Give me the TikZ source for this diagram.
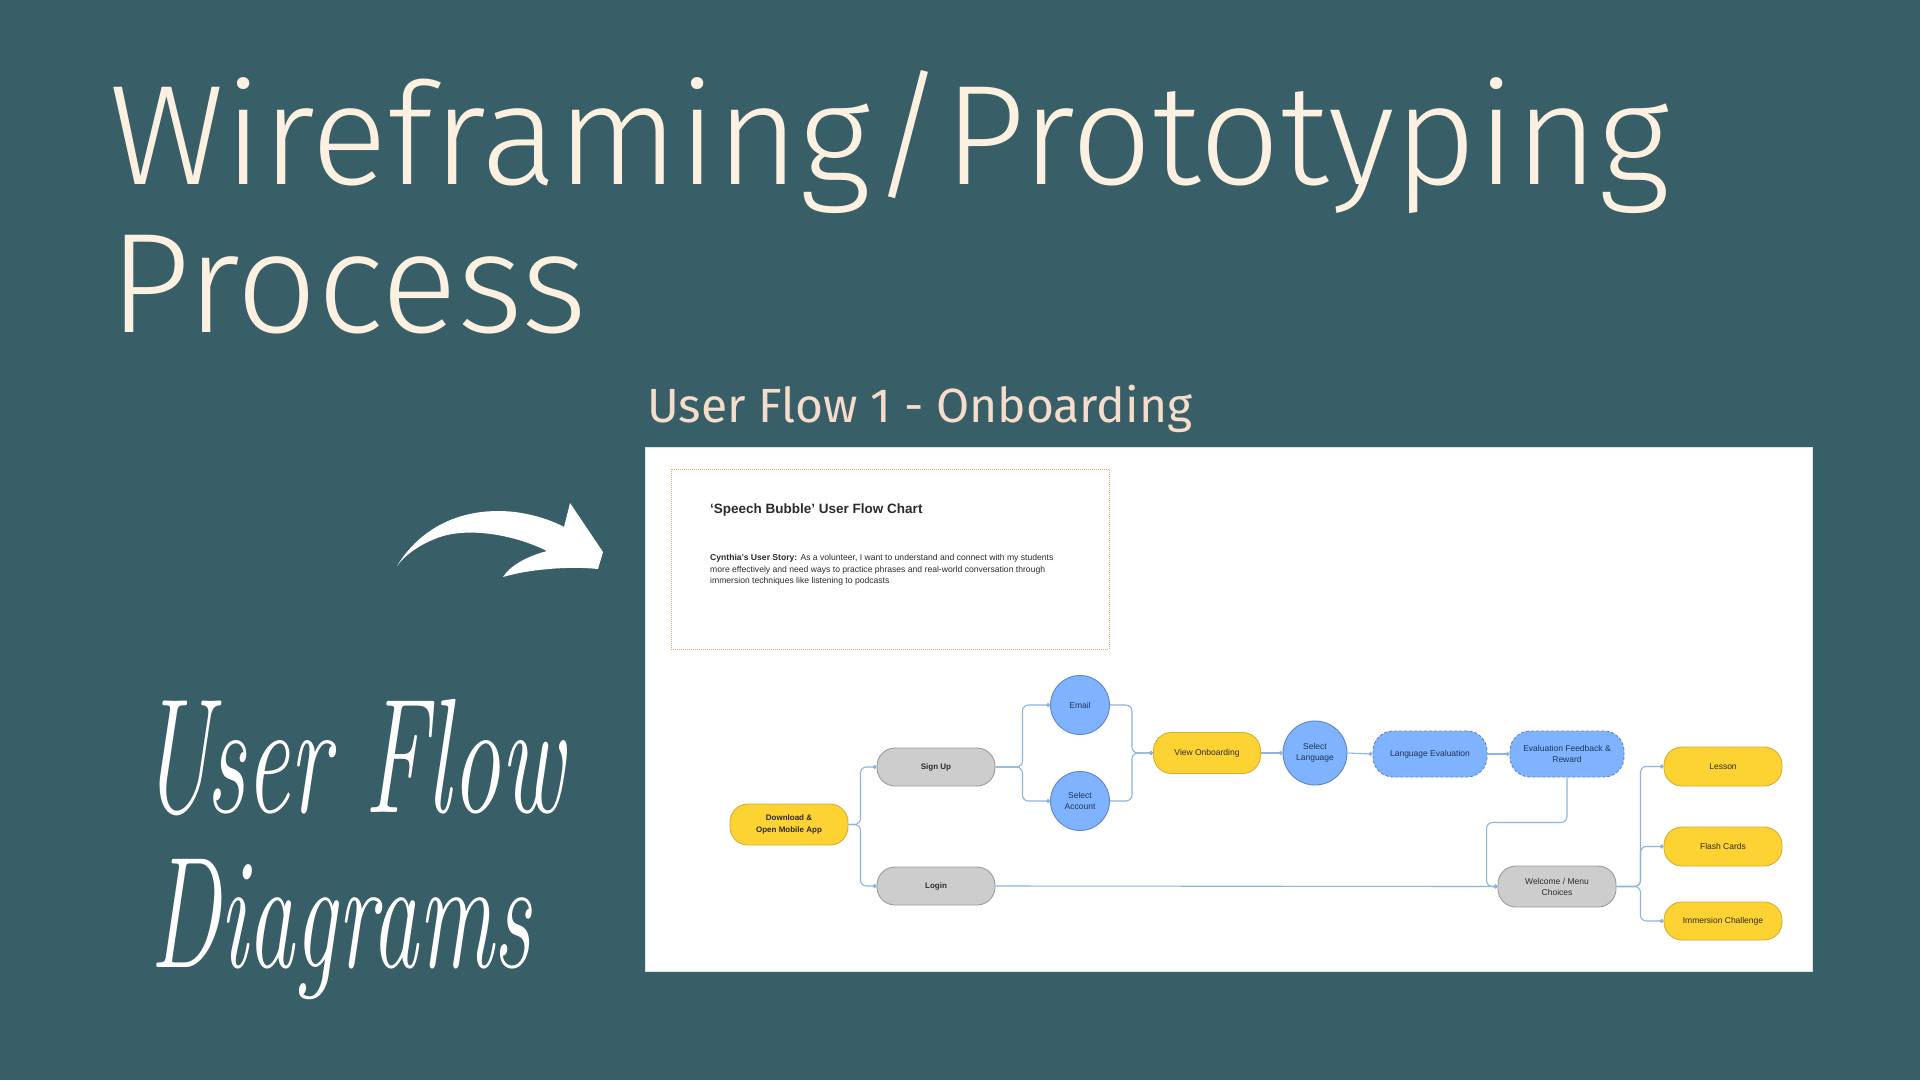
\documentclass[tikz,border=0pt]{standalone}
\usepackage{fontspec}
\setmainfont{Liberation Sans}
\newfontfamily\titlefont{Fira Sans Light}
\newfontfamily\subfont{Fira Sans}
\newfontfamily\handfont{Latin Modern Roman}
\usetikzlibrary{arrows.meta}

\definecolor{bg}{HTML}{385E67}
\definecolor{ttl}{HTML}{FCF0E0}
\definecolor{sub}{HTML}{F5DCCB}
\definecolor{yf}{HTML}{FDD233}
\definecolor{yb}{HTML}{D8AE2E}
\definecolor{gf}{HTML}{CDCDCD}
\definecolor{gb}{HTML}{9B9B9B}
\definecolor{bf}{HTML}{80B3FF}
\definecolor{bb}{HTML}{5C86C2}
\definecolor{bt}{HTML}{1E3556}
\definecolor{tx}{HTML}{2B2B2B}
\definecolor{cl}{HTML}{8DB4DE}
\definecolor{ob}{HTML}{E6A46E}
\definecolor{pb}{HTML}{D3E6EC}

\tikzset{
  nbase/.style={inner sep=0pt, align=center, line width=0.9pt,
    font=\fontsize{8.5}{11}\selectfont},
  pill/.style={nbase, rounded corners=18pt, minimum width=118pt, minimum height=39pt},
  ynode/.style={pill, draw=yb, fill=yf, text=tx},
  gnode/.style={pill, draw=gb, fill=gf, text=tx},
  bnode/.style={nbase, draw=bb, fill=bf, text=bt, rounded corners=20pt,
    minimum width=114pt, minimum height=46pt, densely dashed},
  bcirc/.style={nbase, circle, draw=bb, fill=bf, text=bt},
  bold/.style={font=\fontsize{8}{11.3}\selectfont\bfseries},
  conn/.style={draw=cl, line width=1.1pt, rounded corners=6pt, -{Circle[length=4pt]}},
  headline/.style={anchor=base west, inner sep=0pt, text=ttl,
    font=\titlefont\fontsize{142}{150}\selectfont},
  hand/.style={anchor=base west, inner sep=0pt, text=white,
    font=\handfont\itshape\fontsize{96}{100}\selectfont}
}

\begin{document}
\begin{tikzpicture}[x=1pt,y=-1pt]
\fill[bg] (0,0) rectangle (1920,1080);
\useasboundingbox (0,0) rectangle (1920,1080);

% headline
\node[headline] (t1) at (109,184) {Wireframing/Prototyping};
\node[headline] (t2) at (109,332) {Process};

% hand-lettered caption
\node[hand] (h1) at (140,812) {\scalebox{1.02}[1.7]{User Flow}};
\node[hand] (h2) at (150,967) {\scalebox{0.98}[1.65]{Diagrams}};

% curved arrow
\fill[white] (397,566)
  .. controls (420,528) and (462,506) .. (515,512)
  .. controls (538,515) and (555,522) .. (564,527)
  -- (570,503) -- (603,552) -- (598,569)
  .. controls (570,566) and (530,569) .. (503,577)
  .. controls (510,566) and (525,557) .. (547,551)
  .. controls (515,535) and (470,527) .. (440,537)
  .. controls (420,544) and (405,555) .. (397,566) -- cycle;

% section heading
\node[anchor=base west, inner sep=0pt, text=sub,
  font=\subfont\fontsize{48}{58}\selectfont] (st) at (647,422) {User Flow 1 - Onboarding};

% white board
\filldraw[fill=white, draw=pb, line width=1pt] (645,447) rectangle (1812,971);

% story card
\draw[ob, densely dotted, line width=1pt] (671,469) rectangle (1109,649);
\node[anchor=base west, inner sep=0pt, text=tx,
  font=\fontsize{13.5}{15}\selectfont\bfseries] (ct) at (710,513) {‘Speech Bubble’ User Flow Chart};
\node[anchor=north west, inner sep=0pt, align=left, text=tx,
  font=\fontsize{8.6}{11.6}\selectfont] (story) at (710,554)
  {\textbf{Cynthia’s User Story:} As a volunteer, I want to understand and connect with my students\\
   more effectively and need ways to practice phrases and real-world conversation through\\
   immersion techniques like listening to podcasts};

% flow nodes
\node[ynode, bold, minimum height=41pt] (dl) at (789,824.5) {Download \&\\Open Mobile App};
\node[gnode, bold, minimum height=38pt] (su) at (936,767) {Sign Up};
\node[gnode, bold, minimum height=38pt] (li) at (936,886) {Login};
\node[bcirc, minimum size=59pt] (em) at (1080,705) {Email};
\node[bcirc, minimum size=59pt] (sa) at (1080,801) {Select\\Account};
\node[ynode, minimum width=107pt, minimum height=41pt] (vo) at (1207,753) {View Onboarding};
\node[bcirc, minimum size=64pt] (sl) at (1315,753) {Select\\Language};
\node[bnode] (le) at (1430,754) {Language Evaluation};
\node[bnode] (ef) at (1567,754) {Evaluation Feedback \&\\Reward};
\node[gnode, minimum height=41pt] (wm) at (1557,886.5) {Welcome / Menu\\Choices};
\node[ynode] (ls) at (1723,766.5) {Lesson};
\node[ynode] (fc) at (1723,846.5) {Flash Cards};
\node[ynode, minimum height=38pt] (ic) at (1723,921) {Immersion Challenge};

% connectors
\draw[conn] (dl.east) -- ++(12,0) |- (su.west);
\draw[conn] (dl.east) -- ++(12,0) |- (li.west);
\draw[conn] (su.east) -- ++(27,0) |- (em.west);
\draw[conn] (su.east) -- ++(27,0) |- (sa.west);
\draw[conn] (em.east) -- ++(22,0) |- (vo.west);
\draw[conn] (sa.east) -- ++(22,0) |- (vo.west);
\draw[conn] (vo.east) -- (sl.west);
\draw[conn] (sl.east) -- (le.west);
\draw[conn] (le.east) -- (ef.west);
\draw[conn] (ef.south) -- ++(0,45) -| ([xshift=-11pt]wm.west) -- (wm.west);
\draw[conn] (li.east) -- (wm.west);
\draw[conn] (wm.east) -- ++(24,0) |- (ls.west);
\draw[conn] (wm.east) -- ++(24,0) |- (fc.west);
\draw[conn] (wm.east) -- ++(24,0) |- (ic.west);
\end{tikzpicture}
\end{document}
